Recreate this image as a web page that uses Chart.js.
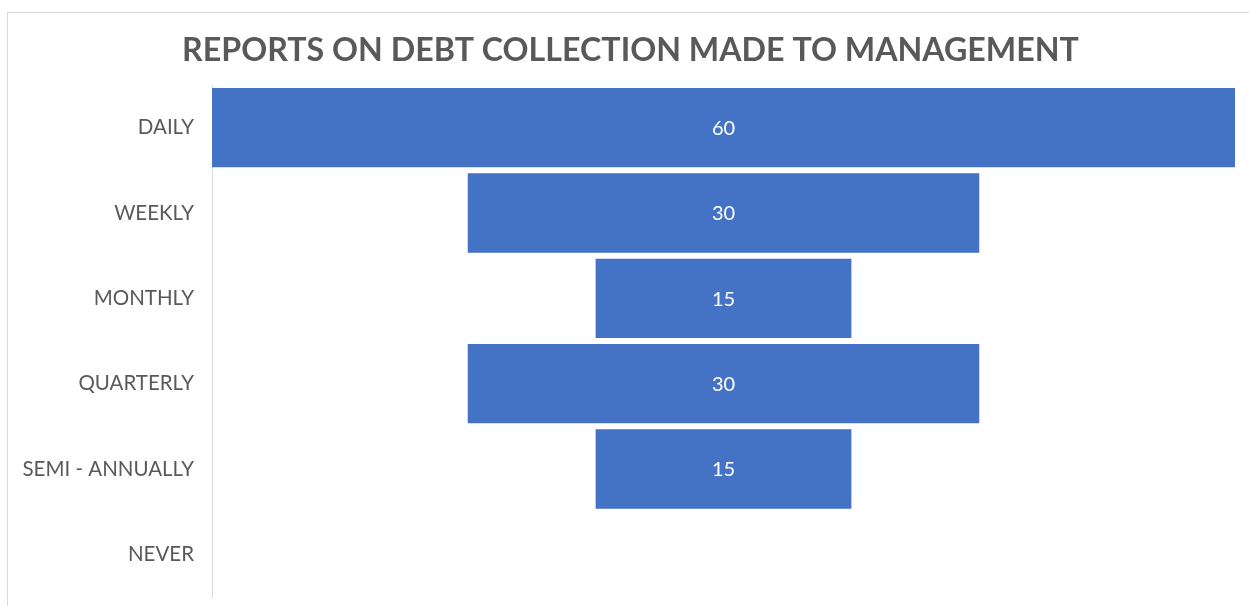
<!DOCTYPE html>
<html>
<head>
<meta charset="utf-8">
<script src="https://cdn.jsdelivr.net/npm/chart.js@4"></script>
<style>
  html, body { margin: 0; padding: 0; background: #fff; overflow: hidden; }
  #frame { position: absolute; left: 7px; top: 12px; width: 1400px; height: 800px; border: 1px solid #d9d9d9; box-sizing: border-box; }
  #funnel { position: absolute; left: 0; top: 0; }
</style>
</head>
<body>
<div id="frame"></div>
<canvas id="funnel" width="1249" height="606"></canvas>
<script>
  // ---------- Data ----------
  const chartTitle = "REPORTS ON DEBT COLLECTION MADE TO MANAGEMENT";
  const categories = ["DAILY", "WEEKLY", "MONTHLY", "QUARTERLY", "SEMI - ANNUALLY", "NEVER"];
  const counts = [60, 30, 15, 30, 15, 0];

  const maxCount = Math.max(...counts);
  // funnel: each bar is centred on zero
  const spans = counts.map(v => [-v / 2, v / 2]);

  const gray = "#595959";
  const font = "Lato, 'Open Sans', sans-serif";

  // title sits a little right of the canvas centre, like the frame it belongs to
  const frameTitle = {
    id: "frameTitle",
    afterDraw(chart) {
      const { ctx } = chart;
      ctx.save();
      ctx.fillStyle = gray;
      ctx.font = "bold 32.2px " + font;
      ctx.textAlign = "center";
      ctx.textBaseline = "middle";
      ctx.fillText(chartTitle, chart.width / 2 + 6, 51);
      ctx.restore();
    }
  };

  // value labels in the middle of each bar
  const valueLabels = {
    id: "valueLabels",
    afterDatasetsDraw(chart) {
      const { ctx } = chart;
      const meta = chart.getDatasetMeta(0);
      ctx.save();
      ctx.fillStyle = "#ffffff";
      ctx.font = "20px " + font;
      ctx.textAlign = "center";
      ctx.textBaseline = "middle";
      meta.data.forEach((bar, i) => {
        if (!counts[i]) return;
        const x = chart.scales.x.getPixelForValue(0);
        ctx.fillText(String(counts[i]), x, bar.y + 1);
      });
      ctx.restore();
    }
  };

  new Chart(document.getElementById("funnel"), {
    type: "bar",
    data: {
      labels: categories,
      datasets: [{
        data: spans,
        backgroundColor: "#4472C4",
        borderWidth: 0,
        borderSkipped: false,
        categoryPercentage: 1,
        barPercentage: 0.93
      }]
    },
    options: {
      indexAxis: "y",
      responsive: false,
      animation: false,
      maintainAspectRatio: false,
      layout: { padding: { top: 85, right: 14, bottom: 9, left: 0 } },
      plugins: {
        legend: { display: false },
        tooltip: { enabled: false },
        title: { display: false }
      },
      scales: {
        x: { display: false, min: -maxCount / 2, max: maxCount / 2 },
        y: {
          grid: { display: false, drawTicks: false },
          border: { display: true, color: "#d9d9d9", width: 1 },
          ticks: { color: gray, padding: 18, autoSkip: false, font: { family: font, size: 20.5 } },
          afterFit(scale) {
            scale.width = 212;
            scale.paddingTop = 0;
            scale.paddingBottom = 0;
          }
        }
      }
    },
    plugins: [valueLabels, frameTitle]
  });
</script>
</body>
</html>
